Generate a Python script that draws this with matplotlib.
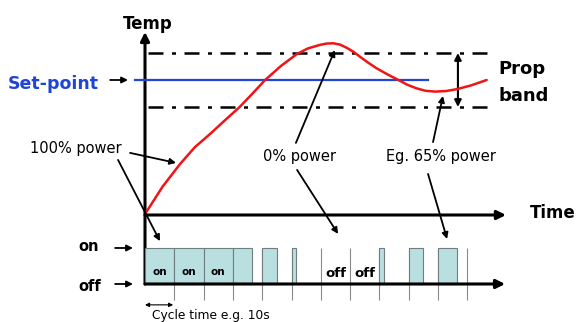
import numpy as np
import matplotlib
matplotlib.use('Agg')
import matplotlib.pyplot as plt

# --- Data (time in control cycles, temperature in prop-band half widths) ---
curve_time = [0.05, 0.60, 1.19, 1.70, 2.22, 2.73, 3.24, 3.67, 4.10, 4.64, 5.18,
              5.56, 5.97, 6.20, 6.43, 6.66, 6.89, 7.12, 7.34, 7.62, 7.91, 8.29,
              8.65, 8.94, 9.27, 9.58, 9.90, 10.27, 10.64, 11.13, 11.66]
curve_temp = [-4.88, -3.95, -3.12, -2.49, -2.00, -1.49, -0.99, -0.50, 0.00, 0.52, 0.96,
              1.17, 1.30, 1.35, 1.36, 1.31, 1.19, 1.04, 0.86, 0.64, 0.43, 0.20,
              0.00, -0.17, -0.31, -0.40, -0.43, -0.41, -0.34, -0.20, 0.00]
set_point = 0.0
band_high = 1.0
band_low = -1.0
duty = [1.0, 1.0, 1.0, 0.65, 0.5, 0.17, 0.0, 0.0, 0.17, 0.5, 0.65]
on_cycles = [0, 1, 2]
off_cycles = [6, 7]

# --- Style ---
RED = '#f01414'
BLUE = '#1f45d6'
FILL = '#b9dfe1'
EDGE = '#6f7f80'
plt.rcParams['font.family'] = ['DejaVu Sans']

fig = plt.figure(figsize=(5.76, 3.22), dpi=100)
ax = fig.add_axes([0, 0, 1, 1])      # temperature panel
ax2 = fig.add_axes([0, 0, 1, 1])     # power (on/off) panel
ax2.patch.set_alpha(0)
for a in (ax, ax2):
    a.set_xlim(-4.949, 14.71)
    a.set_axis_off()
ax.set_ylim(-8.963, 2.963)
ax2.set_ylim(-1.056, 7.889)

n = len(duty)

# axes arrows
axis_kw = dict(arrowstyle='-|>', lw=2.2, color='black', mutation_scale=13,
               shrinkA=0, shrinkB=0)
ax.annotate('', xy=(0, 1.78), xytext=(0, -7.56), arrowprops=axis_kw)
ax.annotate('', xy=(12.32, -5), xytext=(0, -5), arrowprops=axis_kw)
ax2.annotate('', xy=(12.29, 0), xytext=(0, 0), arrowprops=axis_kw, zorder=5)

# proportional band and set point
dashdot = (0, (6, 3.4, 1.6, 3.4))
ax.plot([0.1, 11.77], [band_high, band_high], color='black', lw=1.8, ls=dashdot)
ax.plot([0.1, 11.77], [band_low, band_low], color='black', lw=1.8, ls=dashdot)
ax.plot([-0.34, 9.66], [set_point, set_point], color=BLUE, lw=1.6, zorder=3)
ax.plot(curve_time, curve_temp, color=RED, lw=1.8, zorder=4,
        solid_joinstyle='round', solid_capstyle='round')

ax.annotate('', xy=(10.68, band_low), xytext=(10.68, band_high),
            arrowprops=dict(arrowstyle='<|-|>', lw=1.5, color='black',
                            mutation_scale=10, shrinkA=0, shrinkB=0))

# labels
ax.text(0.08, 2.07, 'Temp', fontsize=12, fontweight='bold', ha='center', va='center')
ax.text(13.14, -4.93, 'Time', fontsize=12, fontweight='bold', ha='left', va='center')
ax.text(-4.68, -0.15, 'Set-point', fontsize=12.5, fontweight='bold', color=BLUE,
        ha='left', va='center')
ax.text(12.05, 0.41, 'Prop', fontsize=13, fontweight='bold', ha='left', va='center')
ax.text(12.05, -0.59, 'band', fontsize=13, fontweight='bold', ha='left', va='center')
ax.text(-3.92, -2.52, '100% power', fontsize=10.5, ha='left', va='center')
ax.text(4.03, -2.85, '0% power', fontsize=10.5, ha='left', va='center')
ax.text(8.23, -2.85, 'Eg. 65% power', fontsize=10.5, ha='left', va='center')

arr = dict(arrowstyle='-|>', lw=1.3, color='black', mutation_scale=9,
           shrinkA=0, shrinkB=0)
ax.annotate('', xy=(-0.58, set_point), xytext=(-1.19, set_point), arrowprops=arr)
ax.annotate('', xy=(1.06, -3.07), xytext=(-0.51, -2.70), arrowprops=arr)
ax.annotate('', xy=(6.48, 1.11), xytext=(5.15, -2.33), arrowprops=arr)
ax.annotate('', xy=(10.17, -0.59), xytext=(9.83, -2.30), arrowprops=arr)
ax2.annotate('', xy=(0.51, 1.19), xytext=(-0.92, -2.96), textcoords=ax.transData,
             arrowprops=arr)
ax2.annotate('', xy=(6.59, 1.39), xytext=(5.19, -3.33), textcoords=ax.transData,
             arrowprops=arr)
ax2.annotate('', xy=(10.31, 1.25), xytext=(9.66, -3.48), textcoords=ax.transData,
             arrowprops=arr)

# --- on/off power pulses ---
ax2.vlines(np.arange(1, n + 1), -0.44, 1.0, color='#8a8a8a', lw=0.8, zorder=1)
pulse = [i for i in range(n) if duty[i] > 0]
ax2.bar(pulse, [1.0] * len(pulse), width=[duty[i] for i in pulse], bottom=0,
        align='edge', color=FILL, edgecolor=EDGE, lw=0.8, zorder=2)
for i in on_cycles:
    ax2.text(i + 0.5, 0.33, 'on', fontsize=7.5, fontweight='bold', ha='center',
             va='center', zorder=6)
for i in off_cycles:
    ax2.text(i + 0.52, 0.3, 'off', fontsize=9.5, fontweight='bold', ha='center',
             va='center', zorder=6)

ax2.text(-2.29, 1.03, 'on', fontsize=10.5, fontweight='bold', ha='left', va='center')
ax2.text(-2.29, -0.08, 'off', fontsize=10.5, fontweight='bold', ha='left', va='center')
ax2.annotate('', xy=(-0.41, 1), xytext=(-1.02, 1), arrowprops=arr)
ax2.annotate('', xy=(-0.41, 0), xytext=(-1.02, 0), arrowprops=arr)

ax2.annotate('', xy=(0.96, -0.58), xytext=(0, -0.58),
             arrowprops=dict(arrowstyle='<|-|>', lw=0.8, color='black',
                             mutation_scale=6, shrinkA=0, shrinkB=0))
ax2.text(0.24, -0.87, 'Cycle time e.g. 10s', fontsize=8.8, ha='left', va='center')

fig.savefig('out.png', dpi=100)
